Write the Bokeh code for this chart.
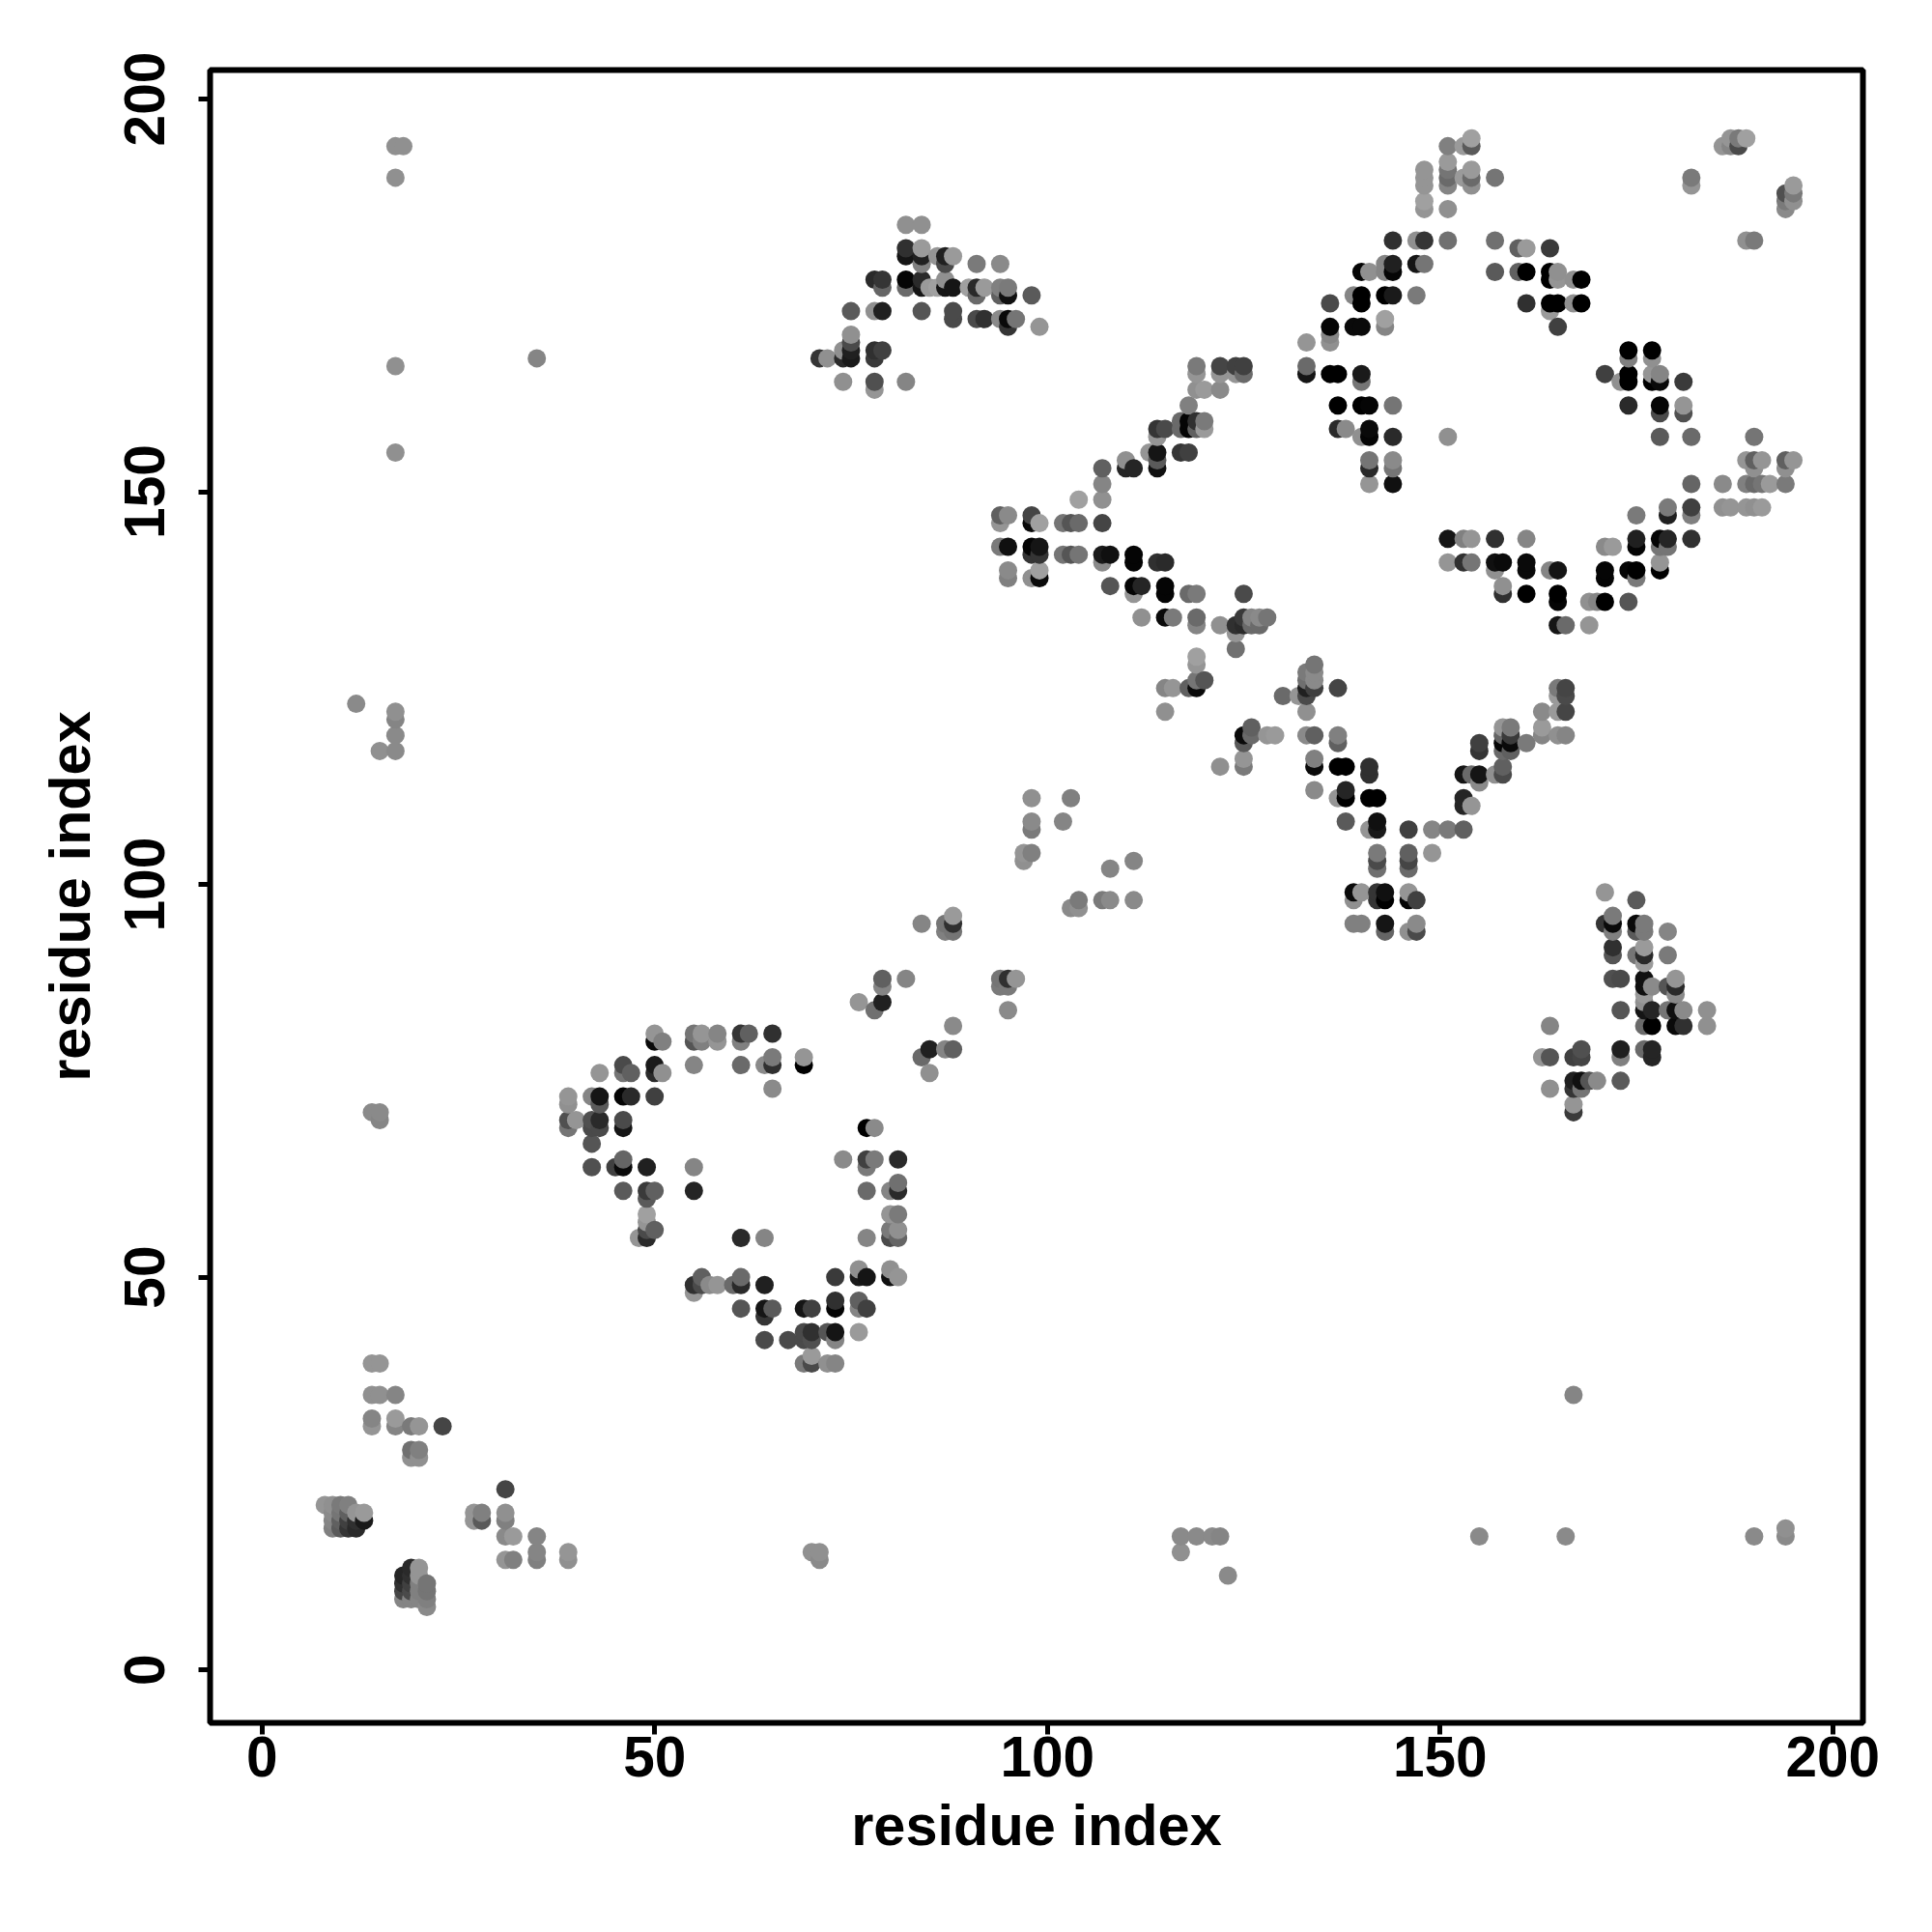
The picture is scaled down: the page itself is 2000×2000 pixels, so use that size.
from bokeh.plotting import figure
from bokeh.models import ColumnDataSource, LinearColorMapper, FixedTicker, Range1d
from bokeh.embed import file_html
from bokeh.resources import INLINE

# (residue i, residue j, shade 0=black .. 150=lightest)
top_helix = [
(82,184,135),(84,184,135),(82,181,45),(82,180,20),(84,181,145),(84,180,30),(84,179,120),(86,180,140),(87,180,30),(87,179,70),
(88,180,145),(91,179,115),(94,179,130),(78,177,40),(79,177,50),(79,176,95),(82,177,5),(82,176,100),(84,177,40),(84,176,20),
(85,176,145),(86,176,150),(87,177,135),(87,176,20),(88,176,20),(90,176,150),(91,176,40),(91,175,100),(92,176,145),(94,176,120),
(94,175,90),(95,176,115),(95,175,15),(98,175,85),(75,173,85),(78,173,135),(79,173,30),(84,173,80),(88,173,70),(88,172,70),
(91,172,70),(92,172,45),(94,172,130),(95,172,10),(95,171,50),(96,172,110),(99,171,140),(75,170,135),(75,169,70),(75,168,30),
(75,167,25),(74,168,135),(74,167,40),(78,168,45),(78,167,55),(79,168,60),(71,167,50),(72,167,135),(74,164,135),(78,164,75),
(78,163,140),(82,164,125),
]
mid_diagonal = [
(119,166,115),(119,165,140),(122,166,65),(122,165,140),(124,166,60),(124,165,140),(125,166,60),(125,165,100),(119,163,135),(120,163,145),
(122,163,130),(118,161,120),(117,159,100),(117,158,100),(118,159,5),(118,158,5),(119,159,45),(119,158,90),(120,159,115),(120,158,145),
(114,158,50),(115,158,70),(114,157,140),(113,155,140),(114,155,20),(114,154,85),(114,153,15),(117,155,50),(118,155,60),(110,154,135),
(110,153,35),(111,153,35),(107,153,90),(107,151,125),(107,149,135),(104,149,150),(94,147,90),(95,147,130),(94,146,140),(98,147,65),
(98,146,10),(99,146,150),(102,146,110),(103,146,80),(104,146,100),(107,146,65),(94,143,115),(95,143,15),(98,143,5),(99,143,20),
(98,142,50),(99,142,50),(102,142,110),(103,142,80),(104,142,110),(107,142,25),(108,142,15),(107,141,130),(111,142,5),(111,141,5),
(114,141,45),(115,141,40),(95,140,130),(95,139,120),(98,139,135),(99,140,150),(99,139,10),(108,138,80),(111,138,5),(112,138,35),
(111,137,140),(115,138,5),(115,137,5),(118,137,100),(119,137,115),(125,137,70),
(112,134,135),(115,134,10),(116,134,115),(119,134,100),(119,133,125),(122,133,135),(124,133,45),(124,132,140),(124,130,105),(125,134,55),
(125,133,40),(126,134,125),(126,133,100),(127,134,130),(127,133,100),(128,134,110),(119,129,150),(119,128,140),(120,126,80),(119,126,110),
(119,125,10),(118,125,90),(115,125,125),(116,125,140),(115,122,135),
]
lower_y = [
(134,128,110),(133,127,115),(134,127,130),(133,126,105),(134,126,130),(133,125,30),(134,125,60),(133,124,70),(132,124,140),(130,124,100),
(133,122,135),(137,125,65),(125,119,10),(125,118,85),(126,120,90),(126,119,100),(128,119,140),(129,119,145),(125,116,140),(125,115,115),
(122,115,135),(133,119,130),(134,119,90),(137,119,120),(137,118,90),(134,116,120),(134,115,10),(137,115,0),(138,115,0),(141,115,45),
(141,114,45),(134,112,130),(137,111,140),(138,112,35),(138,111,0),(141,111,0),(142,111,0),(138,108,85),(141,107,140),(142,108,15),
(142,107,25),(146,107,60),(149,107,125),(151,107,115),(153,107,90),(149,104,140),(142,104,115),(142,103,70),(142,102,105),(146,104,90),
(146,103,65),(146,102,100),(139,99,10),(139,98,135),(140,99,140),(142,99,50),(142,98,50),(143,99,15),(143,98,0),(146,99,140),
(146,98,5),(147,98,60),(139,95,120),(140,95,120),(143,95,20),(143,94,95),(146,94,135),(147,95,130),(147,94,70),
(153,114,20),(154,114,100),(155,114,20),(155,113,130),(153,111,35),(153,110,35),(154,110,140),(157,114,135),(158,114,70),(158,115,90),
(155,118,60),(155,117,50),(158,120,140),(158,119,95),(158,118,5),(158,117,100),(159,120,115),(159,119,55),(159,118,10),(159,117,90),
(161,118,115),(163,122,130),(163,120,145),(163,119,125),(165,119,135),(166,119,125),(165,122,145),(166,122,65),(165,125,115),(166,125,65),
(166,124,70),(165,124,145),
]
upper_right = [
(154,195,150),(154,194,85),(153,194,145),(151,194,120),(151,192,145),(151,191,110),(151,190,100),(151,189,125),(148,191,140),(148,190,140),
(148,189,140),(148,187,150),(148,186,140),(151,186,135),(153,190,145),(154,191,145),(154,190,100),(154,189,135),(157,190,110),(186,194,140),
(187,195,140),(187,194,125),(188,195,115),(188,194,70),(189,195,150),(182,190,115),(182,189,140),(194,188,75),(194,187,115),(194,186,130),
(195,189,145),(195,188,115),(195,187,135),(189,182,135),(190,182,115),(144,182,45),(147,182,135),(148,182,50),(151,182,105),(157,182,105),
(160,181,90),(161,181,145),(164,181,55),(140,178,5),(141,178,135),(143,179,125),(143,178,125),(144,179,30),(144,178,5),(147,179,20),
(148,179,110),(157,178,85),(160,178,90),(161,178,0),(164,178,0),(164,177,0),(165,178,135),(165,177,140),(167,177,135),(168,177,0),
(136,174,70),(139,175,125),(140,175,0),(140,174,0),(143,175,0),(144,175,25),(147,175,115),(161,174,45),(164,174,0),(165,174,0),
(164,173,145),(167,174,135),(168,174,0),(165,171,60),(136,171,5),(136,170,125),(136,169,135),(133,169,140),(139,171,10),(140,171,10),
(143,172,150),(143,171,125),(133,166,100),(133,165,20),(136,165,0),(137,165,0),(140,165,25),(140,164,110),(137,161,0),(140,161,0),
(141,161,5),(144,161,110),(137,158,40),(138,158,130),(140,157,135),(141,158,10),(141,157,5),(144,157,40),(141,154,110),(141,153,40),
(141,151,140),(144,154,130),(144,153,110),(144,151,15),(151,157,135),
]
right_center = [
(174,168,0),(174,167,120),(177,168,0),(177,167,135),(171,165,60),(174,165,0),(174,164,0),(173,164,135),(177,165,140),(177,164,0),
(178,165,125),(178,164,10),(181,164,55),(174,161,40),(178,161,5),(178,160,70),(181,161,140),(181,160,75),(178,157,85),(182,157,100),
(190,157,110),(189,154,140),(190,154,90),(191,154,140),(190,153,135),(194,154,90),(195,154,140),(194,153,135),(182,151,95),(186,151,130),
(189,151,120),(190,151,100),(191,151,110),(192,151,145),(194,151,115),(186,148,135),(187,148,140),(189,148,140),(190,148,135),(191,148,145),
(175,147,115),(179,148,115),(179,147,30),(182,148,60),(182,147,120),(151,144,20),(153,144,120),(154,144,140),(157,144,45),(161,144,125),
(171,143,130),(172,143,145),(175,144,30),(175,143,5),(178,144,5),(178,143,110),(179,144,35),(179,143,110),(182,144,45),(151,141,140),
(153,141,45),(154,141,110),(157,141,15),(158,141,10),(157,140,135),(161,141,10),(161,140,10),(164,140,125),(165,140,20),(158,138,135),
(158,137,45),(161,137,0),(165,137,0),(165,136,5),(169,136,135),(170,136,125),(171,136,0),(174,136,80),(165,133,20),(166,133,100),
(169,133,140),(171,140,5),(171,139,5),(174,140,5),(175,140,0),(175,139,115),(178,141,140),(178,140,0),
]
lower_right = [
(171,99,140),(175,98,85),(171,95,50),(172,96,115),(172,95,10),(172,94,120),(175,95,10),(175,94,85),(176,95,115),(176,94,115),
(179,94,125),(172,92,45),(172,91,80),(175,91,110),(176,92,145),(176,91,40),(176,90,145),(179,91,115),(172,88,75),(173,88,70),
(176,88,15),(176,87,15),(177,87,130),(176,86,145),(176,85,135),(176,84,20),(177,84,35),(179,87,80),(180,88,140),(180,87,40),
(180,86,130),(173,84,80),(179,84,110),(180,84,15),(181,84,130),(184,84,135),(184,82,135),(176,82,100),(177,82,0),(180,82,10),
(181,82,45),(164,82,125),(173,79,30),(173,78,120),(176,79,100),(177,79,35),(177,78,35),(163,78,140),(164,78,80),(167,78,60),
(168,79,75),(168,78,65),(167,75,30),(167,74,50),(168,75,15),(168,74,110),(169,75,80),(170,75,130),(173,75,85),(164,74,135),
(167,72,140),(167,71,55),
]
sparse_diagonal = [
(98,111,135),(103,111,120),(98,108,130),(98,107,115),(102,108,125),(97,104,140),(98,104,120),(97,103,135),(108,102,125),(111,103,125),
(104,98,115),(103,97,130),(104,97,135),(107,98,115),(108,98,130),(111,98,130),(84,95,125),(87,95,110),(87,94,120),(88,96,145),
(88,95,45),(88,94,110),(79,88,90),(79,87,125),(82,88,125),(76,85,140),(79,85,30),(78,84,105),(94,88,110),(94,87,115),
(95,88,45),(95,87,115),(96,88,140),(95,84,130),(88,82,130),(85,79,30),(84,78,100),(87,79,125),(88,79,90),(85,76,135),
]
ring = [
(50,81,140),(50,80,10),(51,80,120),(55,81,110),(55,80,80),(56,81,140),(56,80,120),(58,81,125),(58,80,140),(61,81,50),
(61,80,120),(62,81,90),(65,81,45),(43,76,140),(46,77,70),(46,76,110),(47,76,90),(50,77,25),(50,76,40),(51,76,135),
(55,77,125),(61,77,100),(64,77,130),(65,78,115),(65,77,45),(69,78,140),(69,77,0),(65,74,130),(39,73,140),(39,72,135),
(42,73,125),(43,73,20),(43,72,85),(46,73,5),(47,73,40),(50,73,60),(39,70,75),(39,69,110),(40,70,140),(42,70,75),
(42,69,70),(43,70,40),(43,69,70),(46,70,70),(46,69,20),(42,67,80),(77,69,0),(78,69,130),(74,65,130),(77,65,60),
(77,64,115),(78,65,115),(81,65,40),(42,64,75),(45,64,60),(46,65,95),(46,64,10),(49,64,30),(55,64,125),(46,61,85),
(49,61,55),(49,60,85),(50,61,90),(55,61,35),(77,61,100),(80,61,125),(81,62,105),(81,61,40),(49,58,150),(49,57,140),
(49,56,70),(50,56,90),(49,55,40),(48,55,140),(61,55,40),(64,55,125),(77,55,125),(80,58,140),(81,58,115),(80,56,115),
(81,56,135),(80,55,70),(81,55,95),(55,49,45),(55,48,140),(56,50,90),(56,49,70),(57,49,130),(58,49,140),(60,49,100),
(61,50,100),(61,49,40),(64,49,30),(73,50,55),(76,51,135),(76,50,25),(77,50,20),(80,51,135),(80,50,15),(81,50,140),
(61,46,80),(64,46,20),(64,45,50),(65,46,85),(69,46,20),(70,46,60),(73,47,45),(73,46,5),(76,47,90),(76,46,125),
(77,46,60),(64,42,70),(67,42,70),(69,43,70),(69,42,70),(70,43,45),(70,42,75),(72,43,80),(73,43,20),(73,42,125),
(76,43,145),(70,40,145),(69,39,115),(70,39,70),(72,39,135),(73,39,125),
]
bottom_left = [
(14,39,140),(15,39,140),(14,35,135),(15,35,135),(17,35,125),(14,32,125),(14,31,140),(17,32,145),(17,31,125),(19,31,115),
(20,31,140),(23,31,65),(19,28,105),(19,27,135),(20,28,120),(20,27,135),(31,23,65),(31,20,135),(31,19,120),(27,20,140),
(27,19,140),(28,20,120),(28,19,85),(31,17,130),(32,17,145),(35,17,125),(35,15,125),(35,14,120),(31,14,140),(32,14,120),
(39,15,140),(39,14,135),(8,21,140),(9,21,135),(10,21,115),(11,21,120),(9,20,130),(10,20,110),(11,20,90),(12,20,140),
(13,20,145),(9,19,125),(10,19,90),(11,19,60),(12,19,45),(13,19,25),(9,18,120),(10,18,85),(11,18,50),(12,18,40),
(19,13,40),(20,13,140),(18,12,35),(19,12,45),(20,12,140),(18,11,45),(19,11,60),(20,11,120),(21,11,110),(18,10,65),
(19,10,70),(20,10,120),(21,10,110),(18,9,125),(19,9,125),(20,9,125),(21,9,120),(21,8,130),
]
isolated = [
(17,194,135),(18,194,135),(17,190,135),(17,166,135),(17,155,135),(35,167,125),(12,123,130),(17,122,135),(17,121,125),(17,119,130),
(17,117,130),(15,117,135),(14,71,130),(15,71,130),(15,70,125),(167,35,125),(155,17,130),(166,17,130),(190,17,130),(194,18,135),
(194,17,130),(117,17,130),(117,15,135),(119,17,130),(121,17,130),(122,17,125),(123,12,130),(70,15,135),(71,15,135),(71,14,130),
]
tick_values = [0, 50, 100, 150, 200]
x_label = "residue index"
y_label = "residue index"

contacts = sorted(set(top_helix + mid_diagonal + lower_y + upper_right + right_center
                      + lower_right + sparse_diagonal + ring + bottom_left + isolated),
                  key=lambda c: (c[0], c[1]))
source = ColumnDataSource(dict(i=[c[0] for c in contacts], j=[c[1] for c in contacts],
                               shade=[c[2] for c in contacts]))
greys = ["#%02x%02x%02x" % (v, v, v) for v in range(256)]
mapper = LinearColorMapper(palette=greys, low=0, high=240)

p = figure(frame_width=1711, frame_height=1711, output_backend="svg", toolbar_location=None,
           x_range=Range1d(-6.6, 203.85), y_range=Range1d(-6.75, 203.7),
           min_border_left=217, min_border_right=60, min_border_top=72, min_border_bottom=170)
p.scatter("i", "j", source=source, size=19, marker="circle",
          fill_color={"field": "shade", "transform": mapper}, line_color=None)
p.grid.visible = False
p.outline_line_color = "black"
p.outline_line_width = 6
p.background_fill_color = "white"
for ax, label in ((p.xaxis[0], x_label), (p.yaxis[0], y_label)):
    ax.ticker = FixedTicker(ticks=tick_values)
    ax.axis_label = label
    ax.axis_line_color = None
    ax.major_tick_line_color = "black"
    ax.major_tick_line_width = 5
    ax.major_tick_out = 12
    ax.major_tick_in = 0
    ax.minor_tick_line_color = None
    ax.major_label_text_font = "Liberation Sans"
    ax.major_label_text_font_style = "bold"
    ax.major_label_text_font_size = "58.5px"
    ax.major_label_text_color = "black"
    ax.axis_label_text_font = "Liberation Sans"
    ax.axis_label_text_font_style = "bold"
    ax.axis_label_text_font_size = "59.5px"
    ax.axis_label_text_color = "black"
p.yaxis[0].major_label_orientation = "vertical"
p.xaxis[0].major_label_standoff = 2
p.yaxis[0].major_label_standoff = 35
p.xaxis[0].axis_label_standoff = 14
p.yaxis[0].axis_label_standoff = 21

open("out.html", "w").write(file_html(p, INLINE))
